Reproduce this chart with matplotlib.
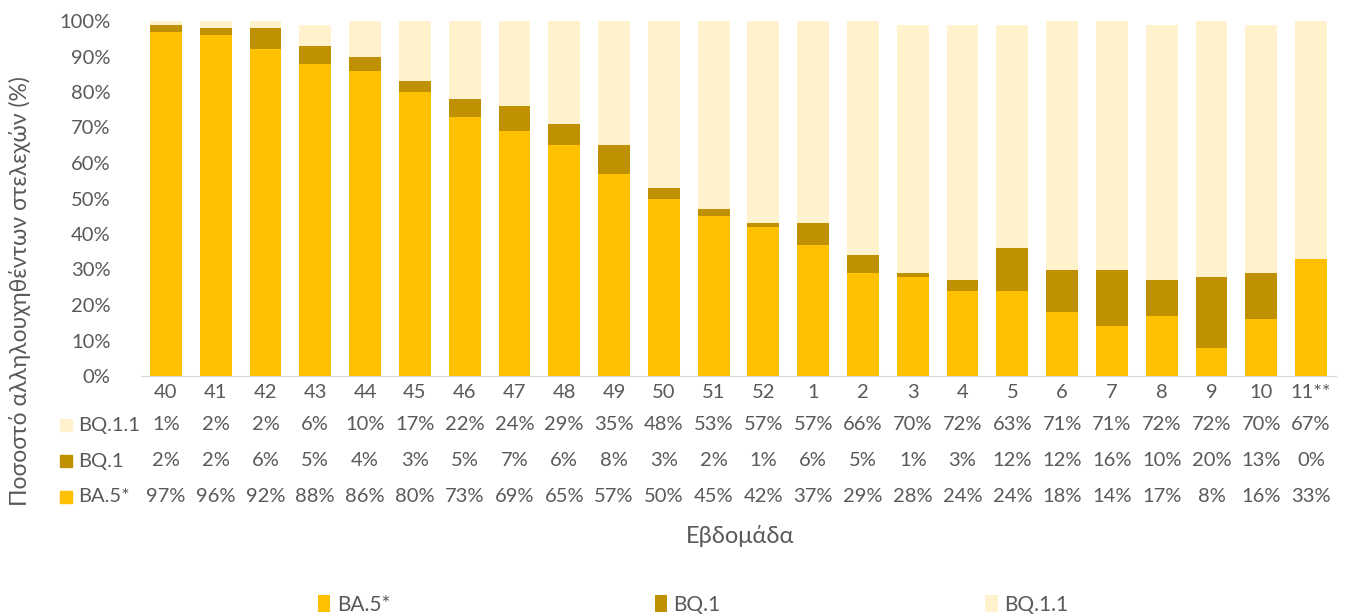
import matplotlib.pyplot as plt
import numpy as np
from matplotlib.patches import Rectangle

plt.rcParams['font.family'] = ['Lato', 'DejaVu Sans']

weeks = ['40', '41', '42', '43', '44', '45', '46', '47', '48', '49', '50', '51', '52',
         '1', '2', '3', '4', '5', '6', '7', '8', '9', '10', '11**']
ba5 = [97, 96, 92, 88, 86, 80, 73, 69, 65, 57, 50, 45, 42, 37, 29, 28, 24, 24, 18, 14, 17, 8, 16, 33]
bq1 = [2, 2, 6, 5, 4, 3, 5, 7, 6, 8, 3, 2, 1, 6, 5, 1, 3, 12, 12, 16, 10, 20, 13, 0]
bq11 = [1, 2, 2, 6, 10, 17, 22, 24, 29, 35, 48, 53, 57, 57, 66, 70, 72, 63, 71, 71, 72, 72, 70, 67]

c_ba5 = '#FFC000'
c_bq1 = '#BF9000'
c_bq11 = '#FFF2CC'
tc = '#595959'

W, H = 1346, 616
fig = plt.figure(figsize=(W/100, H/100), dpi=100)
ax = fig.add_axes([141/W, 1-376/H, (1336-141)/W, 355/H])

x = np.arange(len(weeks))
b1 = np.array(ba5)
b2 = np.array(bq1)
b3 = np.array(bq11)
ax.bar(x, b1, 0.64, color=c_ba5, label='BA.5*')
ax.bar(x, b2, 0.64, bottom=b1, color=c_bq1, label='BQ.1')
ax.bar(x, b3, 0.64, bottom=b1+b2, color=c_bq11, label='BQ.1.1')

ax.set_xlim(-0.5, len(weeks)-0.5)
ax.set_ylim(0, 100)
ax.set_yticks(range(0, 101, 10))
ax.set_yticklabels([f'{v}%' for v in range(0, 101, 10)])
ax.set_xticks(x)
ax.set_xticklabels(weeks)
ax.tick_params(axis='both', length=0, labelsize=14.5, colors=tc)
ax.tick_params(axis='y', pad=22)
ax.tick_params(axis='x', pad=6)
for s in ['top', 'right', 'left']:
    ax.spines[s].set_visible(False)
ax.spines['bottom'].set_color('#D9D9D9')

# data table below
rows = [('BQ.1.1', bq11, c_bq11, 425), ('BQ.1', bq1, c_bq1, 461), ('BA.5*', ba5, c_ba5, 497)]
for name, vals, col, ypx in rows:
    ya = (376 - ypx) / 355
    for i, v in enumerate(vals):
        ax.text(i, ya, f'{v}%', transform=ax.get_xaxis_transform(), ha='center', va='center',
                fontsize=14.5, color=tc)
    fig.text(78/W, 1-ypx/H, name, ha='left', va='center', fontsize=14.5, color=tc)
    fig.patches.append(Rectangle((60/W, 1-(ypx+6)/H), 12/W, 12/H, color=col,
                                 transform=fig.transFigure, figure=fig))

ax.set_ylabel('Ποσοστό αλληλουχηθέντων στελεχών (%)', fontsize=16.5, color=tc)
ax.yaxis.set_label_coords(-110/(1336-141), 0.24)
fig.text(740/W, 1-536/H, 'Εβδομάδα', ha='center', va='center', fontsize=17, color=tc)

fig.legend(loc='center', bbox_to_anchor=(693/W, 1-605/H), ncol=3, frameon=False,
           fontsize=15, handlelength=0.6, handleheight=0.9, handletextpad=0.3,
           columnspacing=12.7, labelcolor=tc)

fig.savefig('out.png', dpi=100)
